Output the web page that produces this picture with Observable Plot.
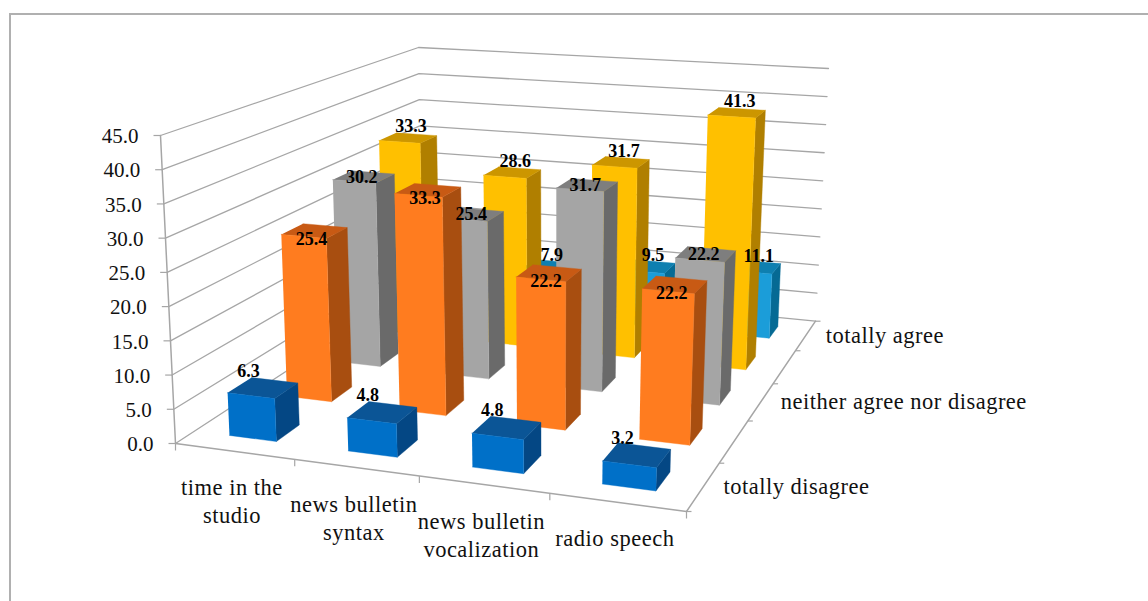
<!DOCTYPE html>
<html>
<head>
<meta charset="utf-8">
<script src="https://cdn.jsdelivr.net/npm/d3@7"></script>
<script src="https://cdn.jsdelivr.net/npm/@observablehq/plot@0.6"></script>
<style>
html,body{margin:0;padding:0;background:#fff;overflow:hidden}
#frame{position:absolute;left:9px;top:13px;width:1200px;height:700px;border-left:2px solid #b0b0b0;border-top:2px solid #b0b0b0}
#chart{position:absolute;left:0;top:0}
svg{background:transparent!important}
</style>
</head>
<body>
<div id="frame"></div>
<div id="chart"></div>
<script>
// ---- data ----
const categories = ["time in the\nstudio", "news bulletin\nsyntax", "news bulletin\nvocalization", "radio speech"];
const series = ["totally disagree", "disagree", "neither agree nor disagree", "agree", "totally agree"];
const totallyDisagree = [6.3, 4.8, 4.8, 3.2];
const disagree = [25.4, 33.3, 22.2, 22.2];
const neither = [30.2, 25.4, 31.7, 22.2];
const agree = [33.3, 28.6, 31.7, 41.3];
const totallyAgree = [4.8, 7.9, 9.5, 11.1];
const valueTicks = [0, 5, 10, 15, 20, 25, 30, 35, 40, 45];
const depthLabels = ["totally disagree", "neither agree nor disagree", "totally agree"];

// ---- styles ----
const frontColors = ["#0070C8", "#FF7C1F", "#A5A5A5", "#FFC000", "#1B9DD9"];
const topColors   = ["#0B5596", "#C85A14", "#7E7E7E", "#CC9600", "#0E7FB0"];
const sideColors  = ["#044784", "#A84E10", "#6A6A6A", "#B07F00", "#066A94"];
const labelDx = [-14.5, -3, -2, 3, 4];
const labelDy = [-17, 8, 0, -11.5, -11];
const gridColor = "#a6a6a6";
const serif = "Liberation Serif";

// ---- perspective frame: where the box corners fall on the page ----
const width = 1148, height = 601, vMax = 45;
const floorCorners = [[175, 443], [686, 511], [815, 320.7], [422, 282]];
const ceilCorners  = [[160, 135], [697, 176], [828, 68], [418, 47]];

function quad([[x0, y0], [x1, y1], [x2, y2], [x3, y3]]) {
  const dx1 = x1 - x2, dx2 = x3 - x2, sx = x0 - x1 + x2 - x3;
  const dy1 = y1 - y2, dy2 = y3 - y2, sy = y0 - y1 + y2 - y3;
  const den = dx1 * dy2 - dx2 * dy1;
  const g = (sx * dy2 - dx2 * sy) / den, h = (dx1 * sy - sx * dy1) / den;
  const a = x1 - x0 + g * x1, b = x3 - x0 + h * x3;
  const d = y1 - y0 + g * y1, e = y3 - y0 + h * y3;
  return (u, v) => {
    const k = g * u + h * v + 1;
    return [(a * u + b * v + x0) / k, (d * u + e * v + y0) / k];
  };
}
const floorAt = quad(floorCorners), ceilAt = quad(ceilCorners);
// u: position across categories, v: across series, value: data value
function project(u, v, value) {
  const nu = u / categories.length, nv = v / series.length, w = value / vMax;
  const [x0, y0] = floorAt(nu, nv), [x1, y1] = ceilAt(nu, nv);
  return [x0 + (x1 - x0) * w, y0 + (y1 - y0) * w];
}

// ---- build the tables from the data ----
const values = [totallyDisagree, disagree, neither, agree, totallyAgree];
const inset = 0.3;
const faces = [];
let faceId = 0;
function addFace(corners, color) {
  const id = faceId++;
  for (const c of corners) {
    const [x, y] = project(...c);
    faces.push({id, x, y, color});
  }
}
for (let s = series.length - 1; s >= 0; --s) {
  categories.forEach((_, c) => {
    const val = values[s][c];
    const u0 = c + inset, u1 = c + 1 - inset, v0 = s + inset, v1 = s + 1 - inset;
    addFace([[u1, v0, 0], [u1, v1, 0], [u1, v1, val], [u1, v0, val]], sideColors[s]);
    addFace([[u0, v0, val], [u1, v0, val], [u1, v1, val], [u0, v1, val]], topColors[s]);
    addFace([[u0, v0, 0], [u1, v0, 0], [u1, v0, val], [u0, v0, val]], frontColors[s]);
  });
}

const wallLines = [];
valueTicks.forEach((t) => {
  [[0, 0], [0, series.length], [categories.length, series.length]].forEach(([u, v]) => {
    const [x, y] = project(u, v, t);
    wallLines.push({t, x, y});
  });
});
const edgeSegs = [];
const addEdge = (name, pts) => pts.forEach(([x, y]) => edgeSegs.push({name, x, y}));
addEdge("value", [project(0, 0, 0), project(0, 0, vMax)]);
addEdge("front", [project(0, 0, 0), project(categories.length, 0, 0)]);
addEdge("side", [project(categories.length, 0, 0), project(categories.length, series.length, 0)]);

const valueTickRows = valueTicks.map((t) => {
  const [x, y] = project(0, 0, t);
  return {x, y, label: t.toFixed(1)};
});
const catTickRows = d3.range(categories.length + 1).map((i) => {
  const [x, y] = project(i, 0, 0);
  return {x, y};
});
const depthTickRows = d3.range(series.length + 1).map((i) => {
  const [x, y] = project(categories.length, i, 0);
  return {x, y};
});
const catLabelRows = categories.map((label, i) => {
  const [x, y] = project(i + 0.5, 0, 0);
  return {x, y, label};
});
const depthLabelRows = depthLabels.map((label) => {
  const [x, y] = project(categories.length, series.indexOf(label) + 0.5, 0);
  return {x, y, label};
});
const labelRows = (s) => categories.flatMap((_, c) => {
  // the 4.8 of the hidden rear bar is not visible in the chart
  if (s === 4 && c === 0) return [];
  const val = values[s][c];
  const [x, y] = project(c + 0.5, s + 0.5, val);
  return [{x, y, label: val.toFixed(1)}];
});

const chart = Plot.plot({
  width, height,
  margin: 0,
  x: {domain: [0, width], range: [0, width], axis: null},
  y: {domain: [0, height], range: [0, height], axis: null},
  style: {background: "transparent", fontFamily: serif},
  marks: [
    Plot.line(wallLines, {x: "x", y: "y", z: "t", stroke: gridColor, strokeWidth: 1.3}),
    Plot.line(edgeSegs, {x: "x", y: "y", z: "name", stroke: gridColor, strokeWidth: 1.5}),
    Plot.link(catTickRows, {x1: "x", y1: "y", x2: "x", y2: (d) => d.y + 7, stroke: gridColor, strokeWidth: 1.2}),
    Plot.link(valueTickRows, {x1: "x", y1: "y", x2: (d) => d.x - 7, y2: "y", stroke: gridColor, strokeWidth: 1.2}),
    Plot.link(depthTickRows, {x1: "x", y1: "y", x2: (d) => d.x + 5, y2: "y", stroke: gridColor, strokeWidth: 1.2}),
    Plot.line(faces, {x: "x", y: "y", z: "id", fill: "color", stroke: "color", strokeWidth: 0.4}),
    Plot.text(valueTickRows, {x: "x", y: "y", text: "label", textAnchor: "end", dx: -22, dy: 1, fontSize: 21, fill: "#111"}),
    Plot.text(catLabelRows, {x: "x", y: "y", text: "label", dx: -2.5, dy: 24, lineAnchor: "top", lineHeight: 1.25, fontSize: 22.5, fill: "#111", textAnchor: "middle"}),
    Plot.text(depthLabelRows, {x: "x", y: "y", text: "label", textAnchor: "start", dx: 20, dy: 0, fontSize: 22.5, fill: "#111"}),
    ...series.map((_, s) => Plot.text(labelRows(s), {
      x: "x", y: "y", text: "label", dx: labelDx[s], dy: labelDy[s],
      fontSize: 18, fontWeight: "bold", fill: "#000"
    }))
  ]
});
document.getElementById("chart").append(chart);
// the category and depth labels run slightly wider than the serif's natural spacing
const textGroups = chart.querySelectorAll('g[aria-label="text"]');
[textGroups[1], textGroups[2]].forEach((g) => { if (g) g.style.letterSpacing = "0.5px"; });
</script>
</body>
</html>
